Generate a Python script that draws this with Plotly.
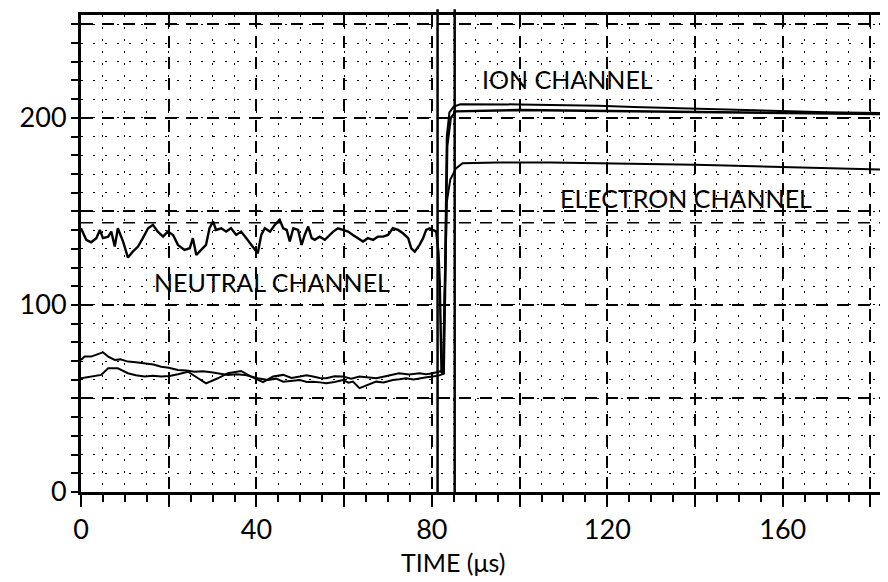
import plotly.graph_objects as go

# ---------------- data ----------------
neutral_x = [0.0, 1.2, 2.3, 3.5, 4.3, 5.0, 6.2, 6.9, 7.7, 8.4, 9.6, 10.7, 11.8, 13.0, 14.1,
             15.3, 16.4, 17.5, 18.7, 19.8, 21.0, 22.1, 23.6, 24.8, 25.5, 26.3, 27.4, 28.5,
             29.3, 30.1, 30.8, 32.0, 33.1, 34.2, 35.4, 36.5, 37.7, 38.8, 40.3, 41.1, 41.9,
             43.1, 44.2, 45.3, 46.1, 46.9, 47.6, 48.4, 49.5, 50.3, 51.0, 51.8, 52.6, 53.3,
             54.4, 55.6, 56.3, 57.5, 58.6, 59.7, 60.9, 62.0, 63.2, 64.3, 65.4, 66.6, 67.7,
             68.9, 70.0, 71.1, 72.3, 73.4, 74.6, 75.3, 76.1, 77.2, 78.0, 78.7, 79.5, 80.3,
             81.0, 81.5, 81.8, 82.2, 82.7, 83.1, 83.5, 84.3, 85.5, 100.0, 118.0, 135.0,
             150.0, 165.0, 184.0]
neutral_y = [141.0, 134.8, 133.5, 135.7, 140.1, 135.7, 136.5, 139.2, 131.2, 141.0, 133.9,
             125.3, 128.5, 131.2, 135.7, 141.0, 142.8, 139.2, 136.5, 139.2, 137.4, 132.1,
             129.4, 130.3, 135.7, 126.7, 129.4, 132.1, 141.0, 144.6, 140.1, 141.0, 139.2,
             141.0, 137.4, 139.2, 135.7, 132.1, 127.6, 137.4, 141.0, 139.2, 142.8, 145.5,
             141.0, 140.1, 133.9, 141.0, 140.1, 132.1, 137.4, 141.9, 135.7, 134.8, 136.5,
             134.8, 136.5, 139.2, 141.0, 140.1, 139.2, 137.4, 135.7, 133.9, 135.7, 134.8,
             136.5, 136.5, 137.4, 141.0, 140.1, 138.3, 135.7, 130.3, 128.5, 132.1, 135.7,
             140.1, 141.0, 140.1, 139.2, 128.0, 112.0, 64.0, 63.0, 120.0, 185.0, 200.0,
             203.5, 204.2, 203.8, 203.2, 202.8, 202.5, 202.0]

ion_x = [0.0, 0.8, 2.3, 3.5, 5.0, 6.2, 7.7, 9.0, 10.7, 12.5, 14.5, 16.5, 18.3, 20.0, 22.1,
         24.0, 25.9, 27.8, 29.7, 31.5, 33.5, 35.5, 37.3, 39.0, 40.3, 42.6, 44.5, 46.1, 48.0,
         49.9, 51.5, 52.9, 54.5, 55.9, 57.8, 59.7, 61.0, 62.0, 63.5, 65.5, 67.3, 69.0, 71.1,
         72.6, 74.1, 75.8, 77.2, 78.8, 80.2, 81.5, 82.5, 83.0, 83.4, 84.0, 85.0, 86.5, 100.0,
         110.0, 118.0, 126.0, 135.0, 143.0, 150.0, 158.0, 170.0, 184.0]
ion_y = [70.6, 72.4, 72.4, 73.3, 74.7, 72.4, 70.6, 70.9, 69.7, 69.3, 68.8, 68.2, 67.0, 66.4,
         65.2, 65.0, 64.3, 64.6, 64.0, 63.2, 62.6, 63.0, 62.6, 61.6, 60.8, 59.9, 60.6, 59.0,
         59.6, 59.9, 58.8, 59.0, 58.6, 58.1, 58.8, 59.9, 58.4, 59.0, 55.5, 57.2, 59.0, 58.5,
         59.9, 60.3, 60.8, 60.1, 60.8, 61.3, 61.7, 62.2, 63.0, 120.0, 190.0, 203.0, 206.0,
         207.3, 207.2, 207.0, 206.5, 205.8, 205.2, 205.0, 204.5, 203.6, 203.0, 202.6]

electron_x = [0.0, 2.3, 4.6, 6.2, 8.4, 10.7, 12.5, 14.5, 16.4, 18.3, 20.2, 22.1, 24.4, 26.7,
              28.5, 31.2, 33.5, 36.5, 38.8, 41.5, 43.8, 46.1, 48.0, 49.9, 51.4, 52.9, 54.4,
              55.9, 57.8, 59.7, 61.6, 63.5, 65.4, 67.3, 69.2, 71.1, 72.5, 74.8, 77.2, 78.7,
              80.2, 82.6, 83.0, 83.4, 84.2, 85.5, 87.0, 95.0, 107.0, 118.0, 129.0, 140.0,
              147.0, 155.0, 162.0, 170.0, 184.0]
electron_y = [60.8, 61.7, 62.6, 66.1, 66.1, 63.5, 62.4, 61.7, 62.2, 61.7, 62.0, 62.9, 64.3,
              60.8, 58.1, 60.8, 63.5, 64.7, 61.7, 58.7, 61.7, 62.6, 61.0, 61.7, 62.4, 61.7,
              60.9, 60.8, 61.9, 61.7, 60.6, 61.7, 61.2, 60.8, 61.8, 62.6, 63.5, 62.8, 63.5,
              63.0, 63.5, 65.0, 110.0, 155.0, 167.0, 173.0, 175.8, 176.1, 176.1, 175.8,
              175.5, 174.9, 174.5, 174.0, 173.4, 173.0, 172.3]

marker_times = [81.3, 85.2]
extra_dashed_levels = [144]

x_tick_vals = [0, 20, 40, 60, 80, 100, 120, 140, 160, 180]
x_tick_text = ["0", "", "40", "", "80", "", "120", "", "160", ""]
y_tick_vals = [0, 50, 100, 150, 200, 250]
y_tick_text = ["0", "", "100", "", "200", ""]

labels = ["ION CHANNEL", "NEUTRAL CHANNEL", "ELECTRON CHANNEL"]
label_x = [111, 43.5, 138]
label_y = [221, 112, 157]
x_title = "TIME (\u03bcs)"

# ---------------- figure ----------------
FONT = "Lato, 'Open Sans', sans-serif"
fig = go.Figure()
for xs, ys, w in [(neutral_x, neutral_y, 2.4), (ion_x, ion_y, 2.0), (electron_x, electron_y, 2.0)]:
    fig.add_trace(go.Scatter(x=xs, y=ys, mode="lines",
                             line=dict(color="black", width=w), showlegend=False,
                             hoverinfo="skip"))

for t in marker_times:
    fig.add_shape(type="line", xref="x", yref="paper", x0=t, x1=t, y0=0, y1=1.012,
                  line=dict(color="black", width=2.5), layer="above")

for lv in extra_dashed_levels:
    fig.add_shape(type="line", xref="paper", yref="y", x0=0, x1=1, y0=lv, y1=lv,
                  line=dict(color="black", width=1.5, dash="12px,9px"), layer="below")

for txt, ax_, ay_ in zip(labels, label_x, label_y):
    fig.add_annotation(x=ax_, y=ay_, text=txt, showarrow=False,
                       font=dict(family=FONT, size=25, color="black"))

fig.add_annotation(xref="paper", yref="paper", x=0.461, y=-0.147, text=x_title,
                   showarrow=False, xanchor="center", yanchor="middle",
                   font=dict(family=FONT, size=25, color="black"))

# the page body adds an 8px offset; size and margins compensate so nothing overflows
fig.update_layout(
    width=880, height=574,
    margin=dict(l=73, r=0, t=7, b=90),
    paper_bgcolor="white", plot_bgcolor="white",
    font=dict(family=FONT, color="black"),
    showlegend=False,
)

fig.update_xaxes(
    automargin=False,
    range=[0, 184], tickmode="array", tickvals=x_tick_vals, ticktext=x_tick_text,
    ticks="outside", ticklen=12, tickwidth=2, tickcolor="black",
    tickfont=dict(family=FONT, size=27, color="black"),
    showline=True, linewidth=3, linecolor="black", mirror=True,
    showgrid=True, gridcolor="black", gridwidth=1.5, griddash="12px,9px",
    zeroline=False,
    minor=dict(dtick=5, tick0=0, ticks="outside", ticklen=7, tickwidth=2,
               tickcolor="black", showgrid=True, gridcolor="black", gridwidth=1.3,
               griddash="2px,10px"),
)
fig.update_yaxes(
    automargin=False,
    range=[0, 255], tickmode="array", tickvals=y_tick_vals, ticktext=y_tick_text,
    ticks="outside", ticklen=6, tickwidth=2, tickcolor="black",
    tickfont=dict(family=FONT, size=27, color="black"),
    showline=True, linewidth=3, linecolor="black", mirror=False,
    showgrid=True, gridcolor="black", gridwidth=1.5, griddash="12px,9px",
    zeroline=False,
    minor=dict(dtick=10, tick0=0, ticks="outside", ticklen=7, tickwidth=2,
               tickcolor="black", showgrid=True, gridcolor="black", gridwidth=1.3,
               griddash="2px,10px"),
)

fig.write_html("out.html")
